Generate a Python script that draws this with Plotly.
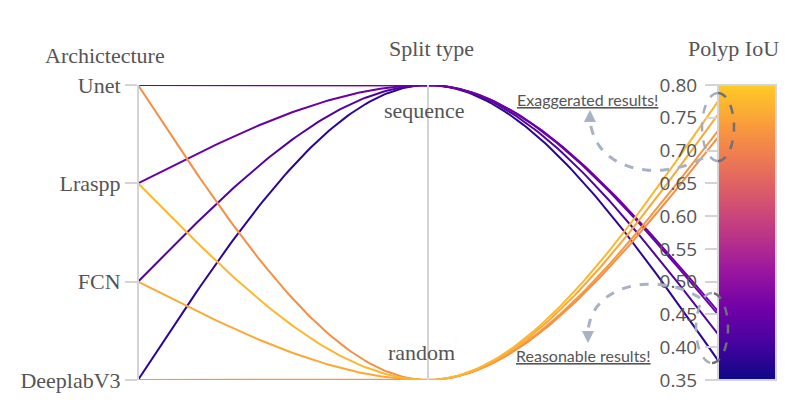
import numpy as np
import plotly.graph_objects as go
from plotly.colors import sample_colorscale

# ---------------- data ----------------
architecture = ["Unet", "Lraspp", "FCN", "DeeplabV3", "Unet", "Lraspp", "FCN", "DeeplabV3"]
split_type = ["sequence", "sequence", "sequence", "sequence", "random", "random", "random", "random"]
polyp_iou = [0.455, 0.450, 0.420, 0.380, 0.720, 0.775, 0.755, 0.730]

arch_order = ["Unet", "Lraspp", "FCN", "DeeplabV3"]      # top -> bottom
split_order = ["sequence", "random"]                      # top -> bottom
iou_ticks = [0.35, 0.40, 0.45, 0.50, 0.55, 0.60, 0.65, 0.70, 0.75, 0.80]
iou_min, iou_max = 0.35, 0.80

plasma = ['#0d0887', '#46039f', '#7201a8', '#9c179e', '#bd3786',
          '#d8576b', '#ed7953', '#fb9f3a', '#fdca26']
cscale = [[i / (len(plasma) - 1), c] for i, c in enumerate(plasma)]

# ---------------- geometry ----------------
W, H = 794, 414
ML, MR, MT, MB = 109, 18, 85, 34
PW, PH = W - ML - MR, H - MT - MB
X_AX0, X_AX1, X_AX2, X_CB1 = 138, 428, 718, 776
XR = [-0.1, 2.0]


def px(x):
    return (x - ML) / PW


def py(y):
    return (H - MB - y) / PH


def cat_pos(order, val):
    k = order.index(val)
    return iou_max - k * (iou_max - iou_min) / (len(order) - 1)


def monotone(ys, n=80):
    # d3.curveMonotoneX through 3 equally spaced points x = 0, 1, 2
    s0 = ys[1] - ys[0]
    s1 = ys[2] - ys[1]
    p = (s0 + s1) / 2
    t1 = (np.sign(s0) + np.sign(s1)) * min(abs(s0), abs(s1), 0.5 * abs(p))
    t0 = (3 * s0 - t1) / 2
    t2 = (3 * s1 - t1) / 2
    xs_out, ys_out = [], []
    for xa, ya, ta, xb, yb, tb in [(0, ys[0], t0, 1, ys[1], t1), (1, ys[1], t1, 2, ys[2], t2)]:
        dx = xb - xa
        P = np.array([[xa, ya], [xa + dx / 3, ya + dx / 3 * ta],
                      [xb - dx / 3, yb - dx / 3 * tb], [xb, yb]])
        t = np.linspace(0, 1, n)[:, None]
        B = ((1 - t) ** 3) * P[0] + 3 * ((1 - t) ** 2) * t * P[1] + 3 * (1 - t) * t ** 2 * P[2] + t ** 3 * P[3]
        xs_out += list(B[:, 0])
        ys_out += list(B[:, 1])
    return xs_out, ys_out


fig = go.Figure()

# gradient bar (IoU colour scale) drawn as a heatmap in its own x-domain
grad = np.linspace(iou_min, iou_max, 300)
fig.add_trace(go.Heatmap(z=[[v] for v in grad], x=[0.5], y=grad, xaxis="x2", yaxis="y",
                         colorscale=cscale, zmin=iou_min, zmax=iou_max, showscale=False,
                         zsmooth="best", hoverinfo="skip"))

colors = sample_colorscale(cscale, [(v - iou_min) / (iou_max - iou_min) for v in polyp_iou])
order = np.argsort(polyp_iou)
for i in order:
    ys = [cat_pos(arch_order, architecture[i]), cat_pos(split_order, split_type[i]), polyp_iou[i]]
    xs, yy = monotone(ys)
    fig.add_trace(go.Scatter(x=xs, y=yy, mode="lines", line=dict(color=colors[i], width=2),
                             showlegend=False, hoverinfo="skip"))

serif = "Liberation Serif, Times New Roman, serif"
sans = "Open Sans, sans-serif"
d_split = px(X_AX2)

fig.update_layout(
    width=W, height=H, autosize=False,
    margin=dict(l=ML, r=MR, t=MT, b=MB, pad=0),
    plot_bgcolor="white", paper_bgcolor="white",
    xaxis=dict(range=XR, domain=[0, d_split], visible=False, automargin=False, fixedrange=True),
    xaxis2=dict(range=[0, 1], domain=[d_split, 1], visible=False, automargin=False,
                anchor="y", fixedrange=True),
    yaxis=dict(range=[iou_min, iou_max], anchor="free", position=d_split, side="left",
               tickvals=iou_ticks, ticktext=[f"{v:.2f}" for v in iou_ticks],
               ticks="outside", ticklen=13, tickwidth=2, tickcolor="#d4d4d4",
               tickfont=dict(family=sans, size=19, color="#555"),
               showgrid=False, zeroline=False, showline=False, automargin=False,
               ticklabelstandoff=4),
    yaxis2=dict(range=[iou_min, iou_max], overlaying="y", anchor="free", position=px(X_AX0),
                side="left",
                tickvals=[cat_pos(arch_order, a) for a in arch_order], ticktext=arch_order,
                ticks="outside", ticklen=12, tickwidth=2, tickcolor="#d4d4d4",
                tickfont=dict(family=serif, size=22, color="#555"),
                showline=True, linecolor="#d4d4d4", linewidth=2,
                showgrid=False, zeroline=False, automargin=False),
    yaxis3=dict(range=[iou_min, iou_max], overlaying="y", anchor="free", position=px(X_AX1),
                side="left", showticklabels=False, ticks="",
                showline=True, linecolor="#d4d4d4", linewidth=2,
                showgrid=False, zeroline=False, automargin=False),
)

# dummy traces so overlaying axes get drawn
fig.add_trace(go.Scatter(x=[None], y=[None], yaxis="y2", showlegend=False, hoverinfo="skip"))
fig.add_trace(go.Scatter(x=[None], y=[None], yaxis="y3", showlegend=False, hoverinfo="skip"))

# outline of the gradient bar
fig.add_shape(type="rect", xref="paper", yref="paper", x0=d_split, x1=1, y0=0, y1=1,
              line=dict(color="#d4d4d4", width=2), layer="above")

# axis titles
for txt, x, y in [("Archictecture", 105, 55), ("Split type", 431, 49), ("Polyp IoU", 733, 49)]:
    fig.add_annotation(text=txt, x=px(x), y=py(y), xref="paper", yref="paper",
                       showarrow=False, xanchor="center", yanchor="middle",
                       font=dict(family=serif, size=22, color="#555"))

# split-type category labels
for txt, x, y in [("sequence", 424, 110), ("random", 421, 352)]:
    fig.add_annotation(text=txt, x=px(x), y=py(y), xref="paper", yref="paper",
                       showarrow=False, xanchor="center", yanchor="middle",
                       font=dict(family=serif, size=22, color="#555"))

# notes
for txt, x, y in [("Exaggerated results!", 587, 99), ("Reasonable results!", 583, 355)]:
    fig.add_annotation(text=f'<span style="text-decoration:underline">{txt}</span>',
                       x=px(x), y=py(y), xref="paper", yref="paper",
                       showarrow=False, xanchor="center", yanchor="middle",
                       font=dict(family="Lato, sans-serif", size=16, color="#555"))


def path_from(points):
    s = "M " + f"{px(points[0][0]):.4f},{py(points[0][1]):.4f}"
    for p in points[1:]:
        s += " L " + f"{px(p[0]):.4f},{py(p[1]):.4f}"
    return s


def bezier(p0, p1, p2, p3, n=40):
    t = np.linspace(0, 1, n)[:, None]
    P = [np.array(p) for p in (p0, p1, p2, p3)]
    B = (1 - t) ** 3 * P[0] + 3 * (1 - t) ** 2 * t * P[1] + 3 * (1 - t) * t ** 2 * P[2] + t ** 3 * P[3]
    return B.tolist()


arrow_col = "#a8b2c2"
top_arc = bezier((703, 158), (660, 182), (595, 172), (590, 120))
bot_arc = bezier((700, 298), (660, 272), (590, 282), (588, 333))
for arc in (top_arc, bot_arc):
    fig.add_shape(type="path", path=path_from(arc), xref="paper", yref="paper",
                  line=dict(color=arrow_col, width=3, dash="dash"))
# arrow heads
fig.add_shape(type="path", path=path_from([(584, 122), (596, 122), (590, 110)]) + " Z",
              xref="paper", yref="paper", fillcolor=arrow_col, line=dict(width=0))
fig.add_shape(type="path", path=path_from([(582, 331), (594, 331), (588, 343)]) + " Z",
              xref="paper", yref="paper", fillcolor=arrow_col, line=dict(width=0))

# ellipses (light half over white, dark half over the bar)
for cx, cy, rx, ry in [(718, 127, 16, 34), (712, 328, 16, 35)]:
    th_l = np.linspace(np.pi / 2, 3 * np.pi / 2, 40)
    th_r = np.linspace(-np.pi / 2, np.pi / 2, 40)
    for th, col in [(th_l, "#a3adbd"), (th_r, "#6e6f78")]:
        pts = [(cx + rx * np.cos(a), cy - ry * np.sin(a)) for a in th]
        fig.add_shape(type="path", path=path_from(pts), xref="paper", yref="paper",
                      line=dict(color=col, width=2.5, dash="dash"))

fig.write_html("out.html")
